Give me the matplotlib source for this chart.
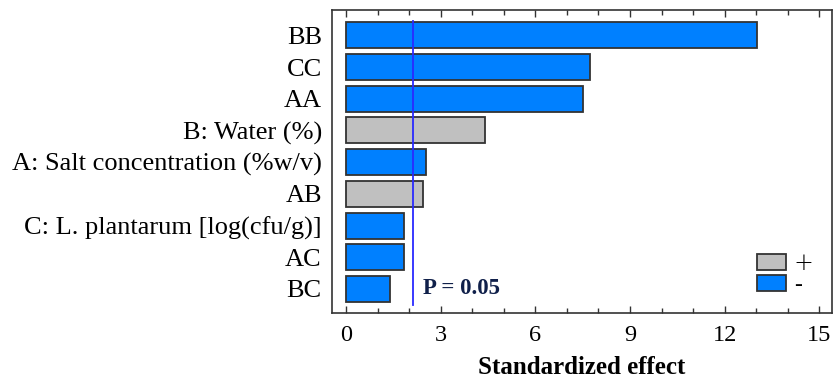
import matplotlib.pyplot as plt
from matplotlib.patches import Patch
from matplotlib.ticker import MultipleLocator

# Pareto chart of standardized effects
terms = ["BB", "CC", "AA", "B: Water (%)", "A: Salt concentration (%w/v)",
         "AB", "C: L. plantarum [log(cfu/g)]", "AC", "BC"]
effects = [13.02, 7.72, 7.51, 4.41, 2.54, 2.45, 1.85, 1.85, 1.40]
signs = ["-", "-", "-", "+", "-", "+", "-", "-", "-"]
p_limit = 2.11

colores = {"+": "#c0c0c0", "-": "#0080ff"}

plt.rcParams["font.family"] = ["Liberation Serif", "DejaVu Serif"]

fig = plt.figure(figsize=(8.33, 3.78), dpi=100)
ax = fig.add_axes([0.398, 0.172, 0.6008, 0.8015])

n = len(terms)
pos = list(range(n - 1, -1, -1))
ax.barh(pos, effects, height=0.82, color=[colores[s] for s in signs],
        edgecolor="#333333", linewidth=1.3)

ax.plot([p_limit, p_limit], [-0.51, 8.46], color="#2a2aff", linewidth=1.3)
ax.text(p_limit + 0.32, 0, "P = 0.05", fontsize=16.5, fontweight="bold",
        color="#10204a", va="center", ha="left")

ax.set_xlim(-0.46, 15.4)
ax.set_ylim(-0.76, 8.8)
ax.set_yticks(pos)
ax.set_yticklabels(terms, fontsize=19)
ax.tick_params(axis="y", length=0, pad=7)

ax.xaxis.set_major_locator(MultipleLocator(3))
ax.xaxis.set_minor_locator(MultipleLocator(1))
ax.tick_params(axis="x", which="both", direction="in", top=True, bottom=True,
               labelsize=17.5, pad=8.5, color="#333333")
ax.tick_params(axis="x", which="major", length=5, width=1)
ax.tick_params(axis="x", which="minor", length=3.5, width=1)

ax.set_xlabel("Standardized effect", fontsize=18, fontweight="bold", labelpad=7)

for sp in ax.spines.values():
    sp.set_color("#333333")
    sp.set_linewidth(1.2)

handles = [Patch(facecolor=colores["+"], edgecolor="#333333", linewidth=1.3, label="+"),
           Patch(facecolor=colores["-"], edgecolor="#333333", linewidth=1.3, label="-")]
leg = ax.legend(handles=handles, loc="lower left", frameon=False, fontsize=17,
                handlelength=1.19, handleheight=0.64, handletextpad=0.35,
                labelspacing=0.0, borderpad=0, borderaxespad=0,
                bbox_to_anchor=(0.851, 0.055))
leg.get_texts()[0].set_family("DejaVu Sans")
leg.get_texts()[0].set_fontweight("light")

plt.savefig("out.png", dpi=100)
